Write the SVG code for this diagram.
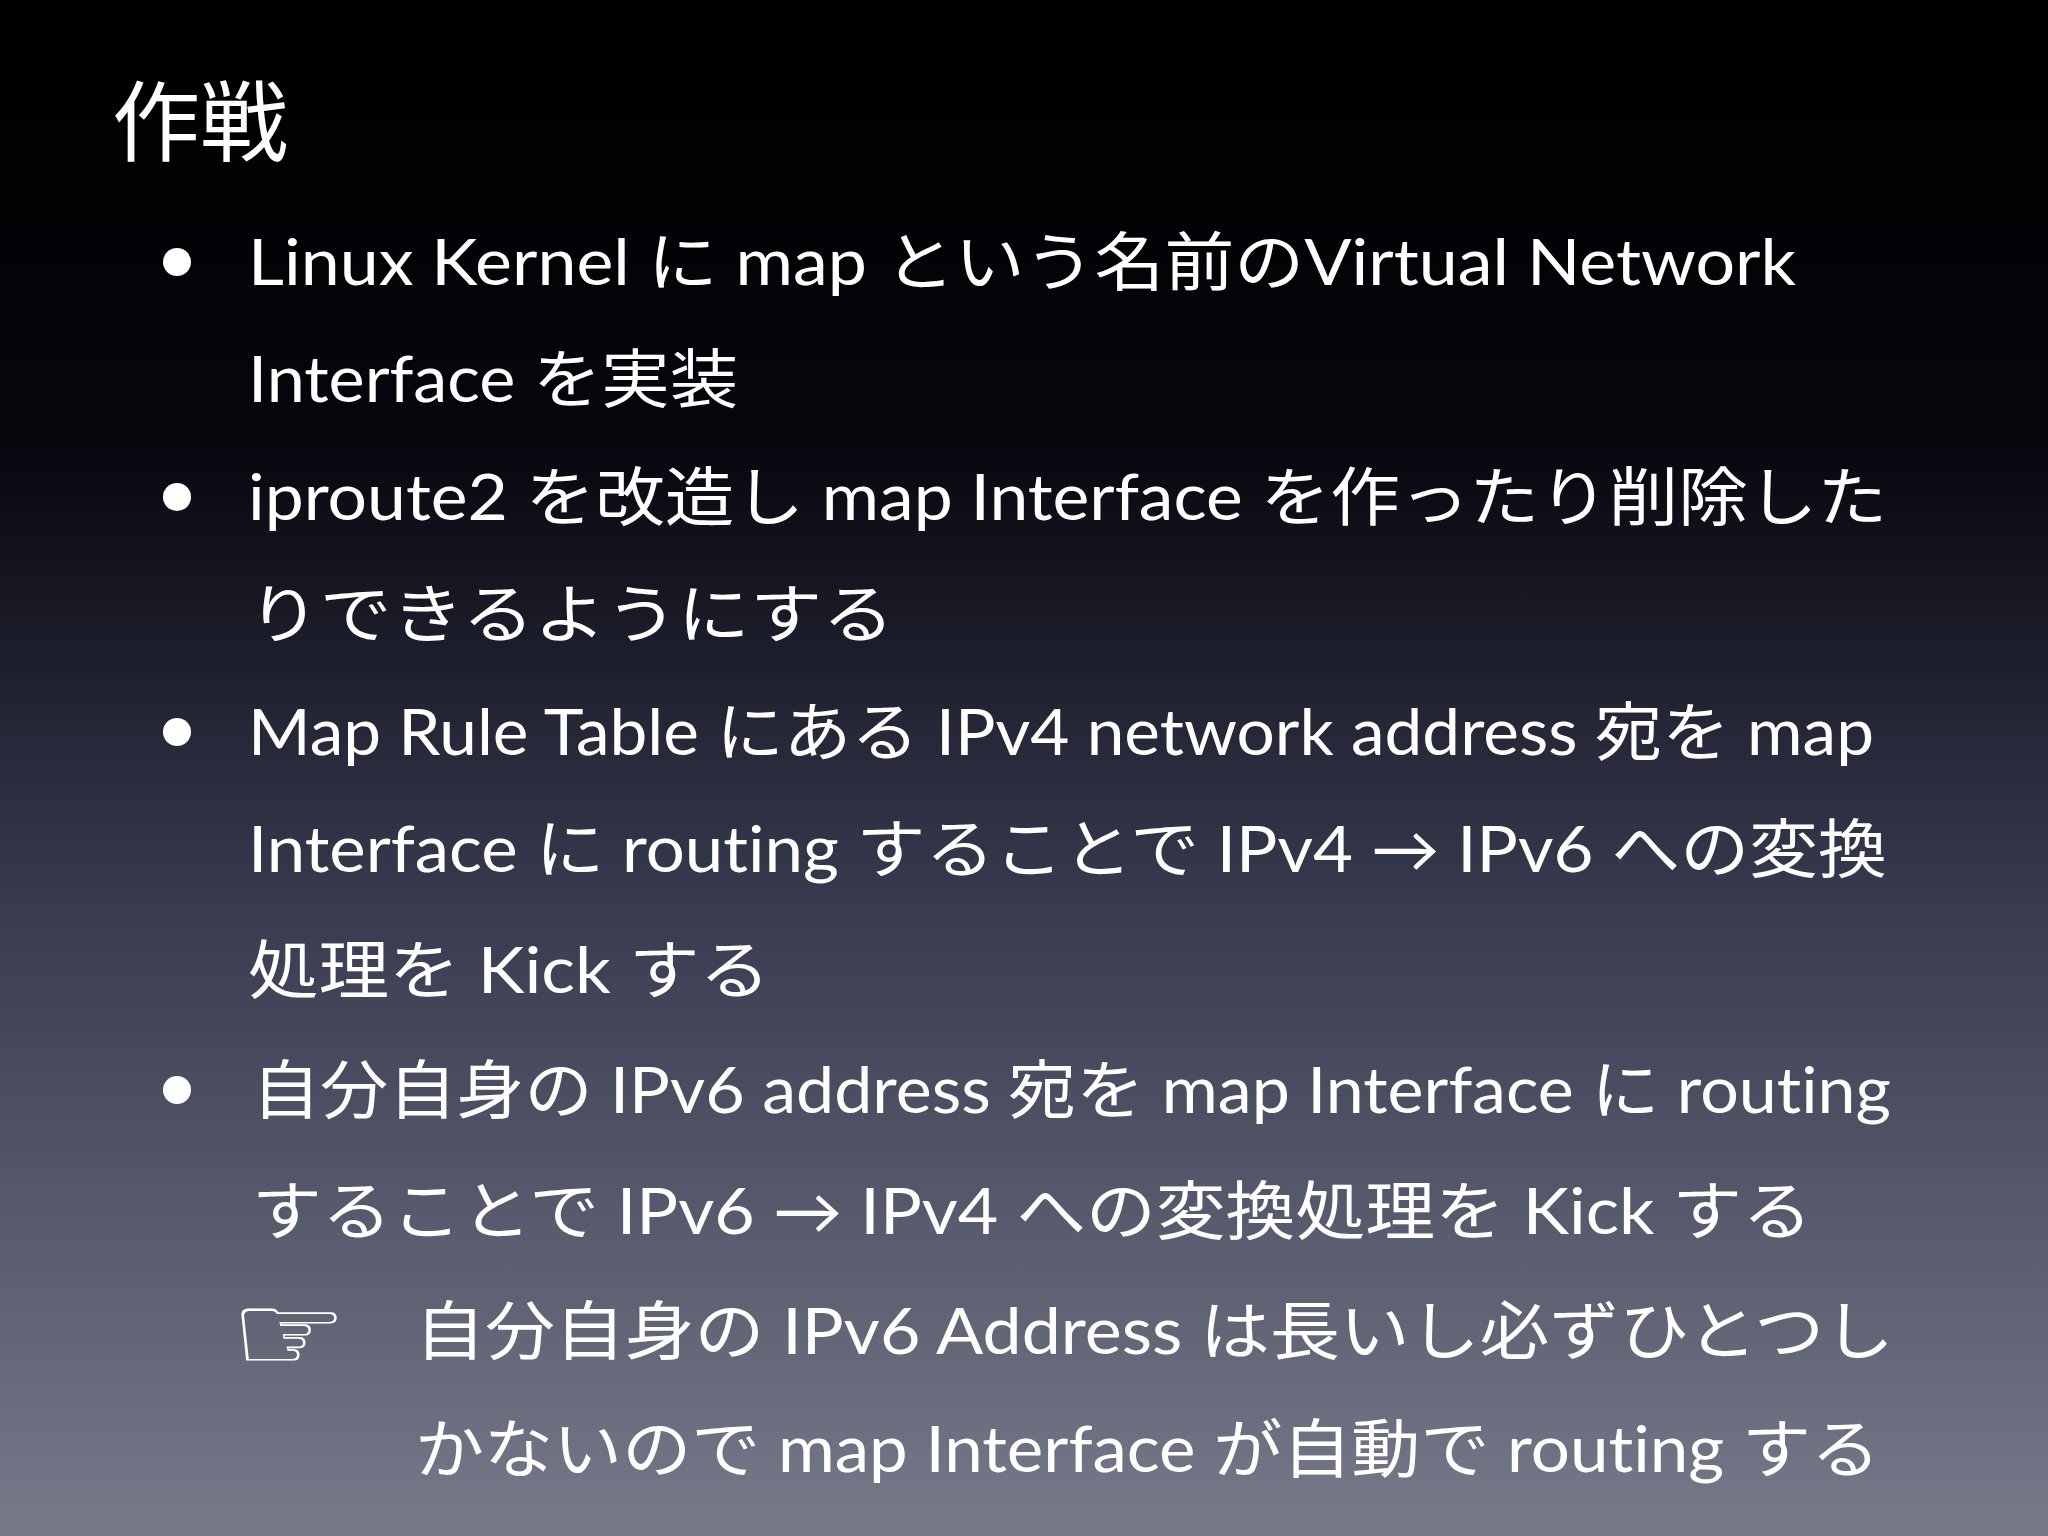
<svg xmlns="http://www.w3.org/2000/svg" width="2048" height="1536" viewBox="0 0 2048 1536">
<defs>
<linearGradient id="bg" x1="0" y1="0" x2="0" y2="1">
<stop offset="0" stop-color="#000000"/>
<stop offset="0.28" stop-color="#05050c"/>
<stop offset="0.6" stop-color="#3a3c52"/>
<stop offset="1" stop-color="#777a89"/>
</linearGradient>
<style>
text{fill:#ffffff;font-family:Lato,"Noto Sans CJK JP",sans-serif;font-size:64px;font-variant-ligatures:none}
.t{font-size:88px}
</style>
</defs>
<rect width="2048" height="1536" fill="url(#bg)"/>
<text class="t" x="112" y="154">作戦</text>
<g>
<circle cx="177" cy="262" r="14" fill="#fff"/>
<circle cx="177" cy="497" r="14" fill="#fff"/>
<circle cx="177" cy="732" r="14" fill="#fff"/>
<circle cx="177" cy="1090" r="14" fill="#fff"/>
<text x="248" y="285" textLength="1548" lengthAdjust="spacingAndGlyphs">Linux Kernel に map という名前のVirtual Network</text>
<text x="248" y="402" textLength="490" lengthAdjust="spacingAndGlyphs">Interface を実装</text>
<text x="248" y="520" textLength="1639" lengthAdjust="spacingAndGlyphs">iproute2 を改造し map Interface を作ったり削除した</text>
<text x="248" y="637" textLength="646" lengthAdjust="spacingAndGlyphs">りできるようにする</text>
<text x="248" y="755" textLength="1626" lengthAdjust="spacingAndGlyphs">Map Rule Table にある IPv4 network address 宛を map</text>
<text x="248" y="872" textLength="1639" lengthAdjust="spacingAndGlyphs">Interface に routing することで IPv4 → IPv6 への変換</text>
<text x="248" y="993" textLength="522" lengthAdjust="spacingAndGlyphs">処理を Kick する</text>
<text x="252" y="1113" textLength="1639" lengthAdjust="spacingAndGlyphs">自分自身の IPv6 address 宛を map Interface に routing</text>
<text x="252" y="1234" textLength="1560" lengthAdjust="spacingAndGlyphs">することで IPv6 → IPv4 への変換処理を Kick する</text>
<text x="230" y="1372" textLength="118" lengthAdjust="spacingAndGlyphs" style="font-family:'DejaVu Sans',sans-serif;font-size:112px">☞</text>
<text x="415" y="1354" textLength="1479" lengthAdjust="spacingAndGlyphs">自分自身の IPv6 Address は長いし必ずひとつし</text>
<text x="415" y="1472" textLength="1465" lengthAdjust="spacingAndGlyphs">かないので map Interface が自動で routing する</text>
</g>
</svg>
